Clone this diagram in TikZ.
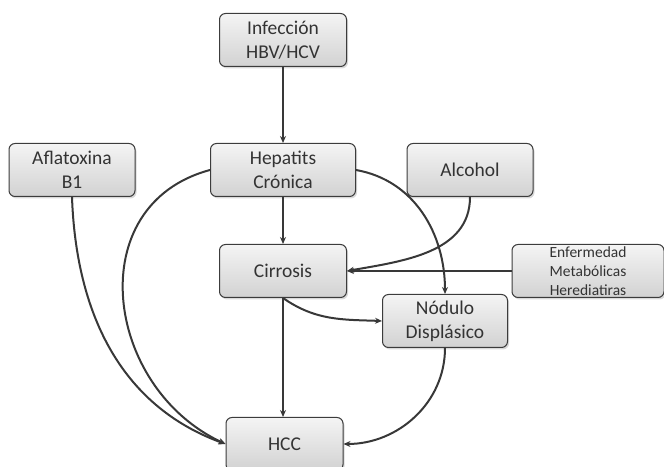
\documentclass[tikz,border=0pt]{standalone}
\usepackage{fontspec}
\setmainfont{Carlito}
\usepackage{tikz}
\usetikzlibrary{arrows.meta,shadows}
\definecolor{boxedge}{HTML}{3C3C3C}
\definecolor{boxtop}{HTML}{F4F4F4}
\definecolor{boxbot}{HTML}{D2D2D2}
\definecolor{inkgray}{HTML}{333333}
\definecolor{linegray}{HTML}{383838}
\tikzset{
  % the rounded grey boxes
  cause/.style={draw=boxedge, top color=boxtop, bottom color=boxbot,
    rounded corners=6pt, line width=1pt, minimum height=53pt,
    align=center, text=inkgray, inner sep=2pt,
    font=\fontsize{19.5}{24}\selectfont,
    drop shadow={shadow xshift=1.5pt, shadow yshift=-2pt, opacity=0.3}},
  smallcause/.style={cause, font=\fontsize{15.5}{19}\selectfont},
  % the connectors
  link/.style={-{Stealth[length=7pt,width=6pt]}, line width=2pt, color=linegray},
}

\begin{document}
\begin{tikzpicture}[x=1pt,y=1pt]
  \useasboundingbox (0,0) rectangle (664,466);
  % boxes
  \node[cause, minimum width=127pt] (infec) at (283,426) {Infección\\HBV/HCV};
  \node[cause, minimum width=145pt] (hepa) at (283,296) {Hepatits\\Crónica};
  \node[cause, minimum width=126pt] (afla) at (72,296) {Aflatoxina\\B1};
  \node[cause, minimum width=126pt] (alco) at (470,296) {Alcohol};
  \node[cause, minimum width=127pt] (cirr) at (283,195) {Cirrosis};
  \node[smallcause, minimum width=152pt] (enfer) at (588,195) {Enfermedad\\Metabólicas\\Herediatiras};
  \node[cause, minimum width=125pt] (nodu) at (445,145) {Nódulo\\Displásico};
  \node[cause, minimum width=117pt] (hcc) at (284.5,22) {HCC};
  % straight links
  \draw[link] (infec) -- (hepa);
  \draw[link] (hepa) -- (cirr);
  \draw[link] (cirr.south) -- (hcc.north -| cirr.south);
  \draw[link] (enfer) -- (cirr.east);
  % curved links
  \draw[link] (afla.south) to[out=-88, in=160] (hcc.west);
  \draw[link] (hepa.west) to[out=195, in=155, looseness=1.25] (hcc.west);
  \draw[link] (hepa.east) to[out=-10, in=90] (nodu.north);
  \draw[link] (alco.south) to[out=-90, in=10] (cirr.east);
  \draw[link] (cirr.south) to[out=-35, in=178] (nodu.west);
  \draw[link] (nodu.south) to[out=-90, in=0] (hcc.east);
\end{tikzpicture}
\end{document}
